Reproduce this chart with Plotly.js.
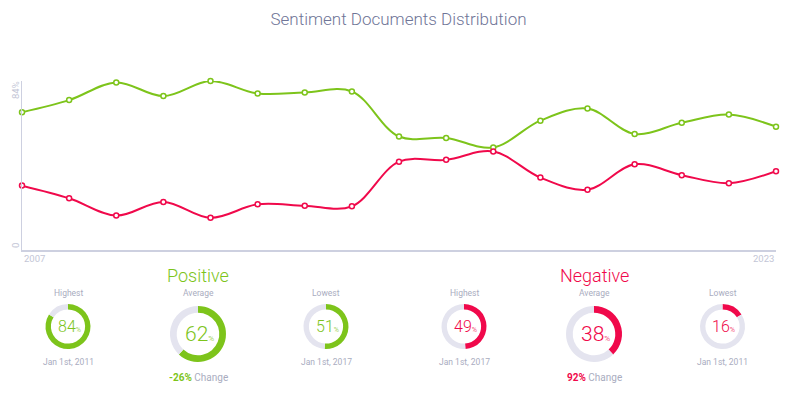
<!DOCTYPE html>
<html>
<head>
<meta charset="utf-8">
<script src="https://cdn.plot.ly/plotly-3.0.1.min.js"></script>
<style>html,body{margin:0;padding:0;background:#fff;}#chart{width:797px;height:394px;}</style>
</head>
<body>
<div id="chart"></div>
<script>
// ---- data ----
const years = [2007, 2008, 2009, 2010, 2011, 2012, 2013, 2014, 2015, 2016, 2017, 2018, 2019, 2020, 2021, 2022, 2023];
const positive = [68.5, 74.5, 83.3, 76.5, 84, 77.8, 78.3, 78.8, 56.4, 55.7, 51, 64.3, 70.3, 57.7, 63.2, 67.3, 61.3];
const negative = [32, 25.7, 17.1, 23.9, 16, 22.7, 22, 21.7, 43.9, 44.8, 49, 36, 30, 42.6, 37.2, 33.2, 39.2];
const yTickLabels = ['0', '84%'];
const xTickLabels = ['2007', '2023'];
const statLabels = ['Highest', 'Average', 'Lowest'];
const positiveStats = [84, 62, 51];
const positiveDates = ['Jan 1st, 2011', null, 'Jan 1st, 2017'];
const positiveChange = '-26%';
const negativeStats = [49, 38, 16];
const negativeDates = ['Jan 1st, 2017', null, 'Jan 1st, 2011'];
const negativeChange = '92%';

// ---- style ----
const W = 797, H = 394;
const GREEN = '#7dc41b', RED = '#f0094b', RING = '#e4e4ef', GREY = '#a9acc0', AXIS = '#cdd0e0';
const FONT = 'Roboto, sans-serif';
const px = x => x / W;
const py = y => 1 - y / H;

const traces = [
  {x: years, y: positive, type: 'scatter', mode: 'lines+markers', cliponaxis: false,
   line: {color: GREEN, width: 2, shape: 'spline', smoothing: 1},
   marker: {color: '#fff', size: 5, line: {color: GREEN, width: 1.5}}, hoverinfo: 'none'},
  {x: years, y: negative, type: 'scatter', mode: 'lines+markers', cliponaxis: false,
   line: {color: RED, width: 2, shape: 'spline', smoothing: 1},
   marker: {color: '#fff', size: 5, line: {color: RED, width: 1.5}}, hoverinfo: 'none'}
];

const annotations = [];
function txt(x, y, text, size, color, weight, opts) {
  annotations.push(Object.assign({xref: 'paper', yref: 'paper', x: px(x), y: py(y), text: text,
    showarrow: false, xanchor: 'center', yanchor: 'middle',
    font: {family: FONT, size: size, color: color, weight: weight}}, opts || {}));
}

// axis labels
txt(15, 90, yTickLabels[1], 9.5, '#c3c6d6', 400, {textangle: -90});
txt(15, 245, yTickLabels[0], 9.5, '#c3c6d6', 400, {textangle: -90});
txt(22, 258, xTickLabels[0], 9.5, '#c3c6d6', 400, {xanchor: 'left'});
txt(776, 258, xTickLabels[1], 9.5, '#c3c6d6', 400, {xanchor: 'right'});

const groups = [
  {name: 'Positive', color: GREEN, stats: positiveStats, dates: positiveDates, change: positiveChange, cx: [68, 198, 326]},
  {name: 'Negative', color: RED, stats: negativeStats, dates: negativeDates, change: negativeChange, cx: [464, 594, 722.5]}
];

groups.forEach(g => {
  txt(g.cx[1], 275.5, g.name, 18, g.color, 300);
  g.stats.forEach((v, i) => {
    const big = i === 1;
    const cx = g.cx[i], cy = big ? 334 : 326.5, r = big ? 28 : 22.5;
    traces.push({type: 'pie', values: [v, 100 - v], sort: false, direction: 'clockwise', rotation: 0,
      hole: 0.76, textinfo: 'none', hoverinfo: 'none', showlegend: false,
      marker: {colors: [g.color, RING], line: {width: 0}},
      domain: {x: [px(cx - r), px(cx + r)], y: [py(cy + r), py(cy - r)]}});
    txt(cx, 292.5, statLabels[i], 8.5, GREY, 400);
    txt(cx + 1, cy, v + '<span style="font-size:' + (big ? 8 : 7) + 'px">%</span>', big ? 21 : 16, g.color, 300);
    if (g.dates[i]) txt(cx, 361.5, g.dates[i], 8.5, GREY, 400);
  });
  txt(g.cx[1], 377, '<b><span style="color:' + g.color + '">' + g.change + '</span></b> Change', 10, GREY, 400);
});

const layout = {
  width: W, height: H, margin: {l: 0, r: 0, t: 0, b: 0},
  paper_bgcolor: '#fff', plot_bgcolor: '#fff', showlegend: false, hovermode: false,
  title: {text: 'Sentiment Documents Distribution', x: 0.5, xanchor: 'center', y: py(19), yanchor: 'middle',
    font: {family: FONT, size: 17, color: '#6f7597', weight: 300}},
  xaxis: {domain: [px(22), px(776)], range: [2007, 2023], showgrid: false, zeroline: false,
    showticklabels: false, ticks: '', showline: true, linecolor: AXIS, linewidth: 1.5},
  yaxis: {domain: [py(250), py(81)], range: [0, 84], showgrid: false, zeroline: false,
    showticklabels: false, ticks: '', showline: true, linecolor: AXIS, linewidth: 1.5},
  annotations: annotations
};

Plotly.newPlot('chart', traces, layout, {staticPlot: true, displayModeBar: false});
</script>
</body>
</html>
